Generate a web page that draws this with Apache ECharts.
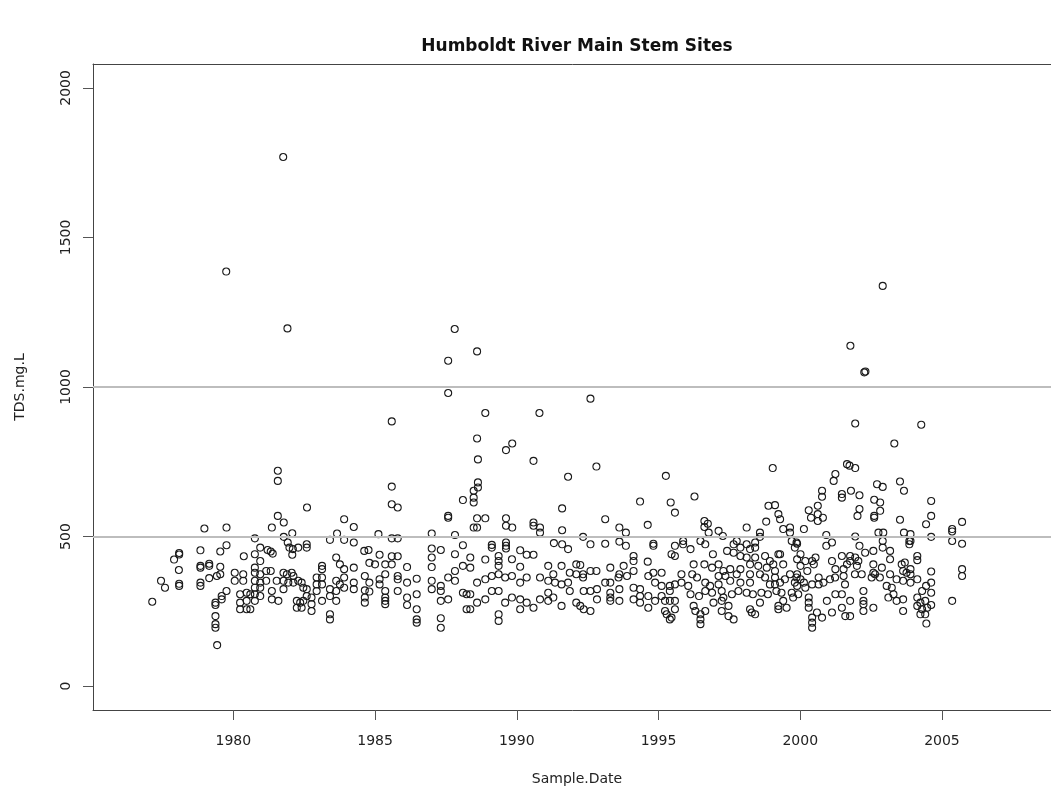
<!DOCTYPE html>
<html>
<head>
<meta charset="utf-8">
<script src="https://cdn.jsdelivr.net/npm/echarts@6/dist/echarts.min.js"></script>
<style>
html,body{margin:0;padding:0;background:#fff;}
#chart{width:1051px;height:791px;}
</style>
</head>
<body>
<div id="chart"></div>
<script>
// Sample.Date (decimal year), TDS.mg.L
const tds1977_1980 = [[1978.98,527],[1979.76,530],[1979.76,471],[1979.54,450],[1978.84,454],[1978.09,445],[1978.09,440],[1977.91,423],[1978.08,388],[1977.45,352],[1977.59,329],[1978.09,342],[1978.09,335],[1978.84,402],[1978.84,396],[1979.15,409],[1979.15,402],[1979.54,399],[1978.84,346],[1978.84,335],[1979.15,361],[1979.42,368],[1979.54,374],[1977.14,282],[1980.37,434],[1980.05,379],[1980.05,352],[1980.35,374],[1980.35,352],[1979.76,318],[1979.59,301],[1979.59,290],[1979.37,279],[1979.37,271],[1979.37,234],[1979.37,207],[1979.37,195],[1979.43,137],[1980.24,307],[1980.24,279],[1980.24,257],[1980.47,312],[1980.47,285],[1980.47,257],[1979.75,1386]];
const tds1981_1984 = [[1981.57,720],[1981.57,686],[1982.6,597],[1981.57,569],[1981.78,547],[1981.36,530],[1982.08,511],[1981.78,499],[1980.76,494],[1983.91,558],[1984.25,532],[1983.66,510],[1983.41,489],[1983.91,489],[1984.25,480],[1980.95,463],[1981.21,455],[1981.32,450],[1981.39,443],[1981.92,480],[1981.98,463],[1982.1,458],[1982.29,463],[1982.59,474],[1982.59,463],[1982.08,439],[1980.76,441],[1980.95,418],[1980.76,396],[1983.63,430],[1983.76,407],[1983.91,391],[1984.25,396],[1983.13,402],[1983.13,391],[1980.76,379],[1980.95,374],[1981.16,385],[1981.32,385],[1980.76,352],[1980.95,346],[1981.16,352],[1980.76,329],[1980.95,329],[1980.6,307],[1980.76,307],[1980.95,301],[1980.76,285],[1980.6,257],[1981.36,318],[1981.36,290],[1981.59,285],[1981.77,324],[1981.77,379],[1981.89,374],[1982.06,379],[1982.12,368],[1981.53,352],[1981.77,352],[1981.94,346],[1982.12,346],[1982.29,352],[1982.41,346],[1982.47,329],[1982.24,285],[1982.36,279],[1982.24,262],[1982.41,262],[1982.47,285],[1982.76,296],[1982.76,274],[1982.76,251],[1982.59,301],[1982.59,324],[1982.94,363],[1982.94,340],[1982.94,318],[1983.13,363],[1983.13,340],[1983.13,285],[1983.41,324],[1983.41,301],[1983.41,240],[1983.41,223],[1983.63,352],[1983.63,318],[1983.63,285],[1983.76,340],[1983.91,363],[1983.91,329],[1984.25,346],[1984.25,324]];
const tds1985_1988 = [[1985.59,885],[1985.59,667],[1985.59,608],[1985.8,597],[1988.1,622],[1987.58,569],[1987.58,563],[1985.12,508],[1985.59,494],[1985.8,494],[1987.0,510],[1987.82,505],[1988.1,471],[1984.62,452],[1984.77,455],[1985.16,439],[1984.8,412],[1985.0,407],[1985.36,407],[1985.59,434],[1985.8,434],[1985.59,407],[1986.13,398],[1987.0,460],[1987.32,455],[1987.0,430],[1987.0,398],[1987.82,441],[1988.1,402],[1987.82,385],[1987.82,352],[1987.58,363],[1984.64,368],[1984.8,346],[1984.64,320],[1984.8,316],[1984.64,296],[1984.64,279],[1985.16,357],[1985.16,340],[1985.36,374],[1985.36,318],[1985.36,296],[1985.36,285],[1985.36,274],[1985.8,368],[1985.8,357],[1985.8,318],[1986.13,346],[1986.47,359],[1986.13,296],[1986.13,271],[1986.47,307],[1986.47,257],[1986.47,223],[1986.47,212],[1987.0,352],[1987.0,324],[1987.32,335],[1987.32,318],[1987.32,285],[1987.58,290],[1987.32,227],[1987.32,195],[1988.23,307],[1988.1,312],[1988.23,257]];
const tds1988_1992 = [[1988.89,913],[1990.8,913],[1988.6,828],[1988.63,758],[1989.62,789],[1989.84,811],[1990.59,753],[1991.81,700],[1991.6,594],[1988.63,681],[1988.63,664],[1988.48,653],[1988.48,630],[1988.48,614],[1988.6,561],[1988.89,561],[1988.48,530],[1988.6,530],[1989.62,561],[1989.62,536],[1989.84,530],[1990.59,547],[1990.59,536],[1990.82,530],[1990.82,513],[1991.6,521],[1991.31,478],[1991.6,474],[1991.81,458],[1989.12,472],[1989.12,463],[1989.62,480],[1989.62,469],[1989.62,460],[1990.12,454],[1990.35,439],[1990.59,439],[1988.36,430],[1988.36,396],[1988.89,423],[1989.36,435],[1989.36,418],[1989.36,402],[1989.83,424],[1990.12,399],[1991.11,402],[1991.58,402],[1992.1,407],[1991.87,379],[1991.29,374],[1988.6,346],[1988.89,357],[1989.12,368],[1989.36,374],[1989.59,363],[1989.83,368],[1990.12,346],[1990.35,363],[1990.82,363],[1991.11,352],[1991.35,346],[1991.58,340],[1991.81,346],[1992.1,374],[1988.36,307],[1988.36,257],[1988.6,279],[1988.89,290],[1989.12,318],[1989.36,318],[1989.59,279],[1989.83,296],[1990.12,290],[1990.12,257],[1990.35,279],[1990.59,262],[1990.82,290],[1991.11,312],[1991.11,285],[1991.29,296],[1991.58,268],[1991.87,318],[1992.1,279],[1989.36,240],[1989.36,218]];
const tds1992_1996 = [[1992.81,734],[1995.26,703],[1994.35,617],[1995.43,614],[1995.58,580],[1993.12,558],[1993.62,530],[1993.85,513],[1994.62,539],[1992.34,499],[1992.6,474],[1993.12,476],[1993.62,483],[1993.85,469],[1994.82,476],[1994.82,469],[1995.58,469],[1995.46,441],[1995.58,435],[1995.87,474],[1995.87,485],[1994.12,435],[1994.12,418],[1993.77,402],[1994.12,385],[1994.62,416],[1992.24,405],[1992.6,385],[1992.81,385],[1993.3,396],[1993.62,374],[1993.89,368],[1992.34,374],[1992.34,363],[1993.12,346],[1993.3,346],[1993.59,363],[1994.64,368],[1994.82,379],[1995.11,379],[1994.88,346],[1995.81,374],[1995.81,346],[1996.05,335],[1995.58,340],[1995.4,335],[1992.36,318],[1992.6,318],[1992.83,324],[1992.83,290],[1993.3,312],[1993.3,296],[1993.3,285],[1993.62,324],[1993.62,285],[1994.12,329],[1994.12,290],[1994.35,324],[1994.35,301],[1994.35,279],[1994.64,301],[1994.64,262],[1994.88,285],[1995.11,335],[1995.11,301],[1995.23,285],[1995.23,251],[1995.4,318],[1995.4,285],[1995.58,285],[1995.58,257],[1995.4,223],[1992.24,268],[1992.36,257],[1992.6,251],[1995.29,240],[1995.46,229]];
const tds1996_2000 = [[1996.27,634],[1999.03,729],[1998.88,603],[1999.11,605],[1999.23,575],[1999.29,558],[1998.8,550],[1996.62,552],[1996.74,543],[1996.62,532],[1998.11,530],[1998.58,513],[1998.58,499],[1999.4,525],[1999.64,530],[1999.64,513],[1997.12,519],[1997.27,502],[1996.77,513],[1996.13,458],[1996.48,485],[1996.65,474],[1996.92,441],[1997.42,452],[1997.65,474],[1997.76,485],[1997.65,446],[1997.89,463],[1998.11,474],[1998.23,458],[1998.41,480],[1998.41,463],[1999.7,485],[1999.87,480],[1999.81,463],[1997.89,435],[1998.11,430],[1998.41,430],[1998.76,435],[1998.93,418],[1999.23,441],[1996.24,407],[1996.62,407],[1996.89,396],[1997.12,407],[1997.29,385],[1997.53,391],[1997.89,391],[1998.23,407],[1998.52,402],[1998.82,396],[1999.05,407],[1999.29,441],[1999.4,407],[1999.11,385],[1999.64,374],[1999.81,346],[1999.87,363],[1996.19,374],[1996.36,363],[1996.65,346],[1996.82,335],[1997.12,340],[1997.12,368],[1997.36,368],[1997.53,352],[1997.76,374],[1997.89,346],[1998.23,374],[1998.23,346],[1998.58,374],[1998.76,363],[1998.93,340],[1999.11,363],[1999.11,340],[1999.29,346],[1999.46,357],[1996.13,307],[1996.43,301],[1996.65,318],[1996.89,312],[1997.23,318],[1997.29,296],[1997.59,307],[1997.82,318],[1998.11,312],[1998.33,307],[1998.63,312],[1998.86,307],[1999.16,318],[1999.34,312],[1999.7,312],[1999.93,307],[1996.24,268],[1996.3,251],[1996.48,240],[1996.48,223],[1996.48,207],[1996.65,251],[1996.94,279],[1997.23,285],[1997.23,251],[1997.47,268],[1997.47,234],[1997.65,223],[1998.23,257],[1998.29,246],[1998.41,240],[1998.58,279],[1999.23,268],[1999.23,257],[1999.4,285],[1999.52,262],[1999.75,296]];
const tds2000_2004 = [[2001.94,878],[2003.32,811],[2001.65,742],[2001.74,737],[2001.94,729],[2001.24,709],[2001.18,686],[2002.71,675],[2002.91,666],[2003.52,684],[2003.66,653],[2000.77,653],[2000.77,633],[2001.47,642],[2001.47,630],[2001.79,653],[2002.09,638],[2002.61,623],[2002.82,614],[2002.82,586],[2002.61,563],[2002.61,569],[2002.09,592],[2002.02,569],[2000.3,588],[2000.62,603],[2000.62,575],[2000.38,563],[2000.8,563],[2000.62,552],[2003.52,556],[2003.66,513],[2003.85,485],[2003.85,474],[2000.13,525],[2001.94,500],[2000.92,505],[2000.92,469],[2001.12,480],[2002.09,469],[2002.76,513],[2002.93,513],[2002.91,485],[2002.91,463],[2003.17,452],[2003.17,424],[1999.89,476],[2000.01,441],[1999.89,424],[2000.18,418],[2000.42,418],[2000.54,430],[2000.01,402],[2000.25,385],[2000.48,407],[2001.12,418],[2001.47,435],[2001.76,435],[2001.94,430],[2002.05,418],[2002.29,446],[2002.0,402],[2001.76,418],[2001.65,407],[2001.53,391],[2001.24,391],[2002.58,452],[2002.58,407],[2002.58,379],[2002.88,396],[2003.17,374],[2003.58,407],[2003.63,385],[2003.75,379],[2003.69,413],[1999.89,374],[2000.01,357],[2000.13,346],[1999.89,335],[2000.18,329],[2000.42,340],[2000.65,363],[2000.65,340],[2000.82,346],[2001.05,357],[2001.23,363],[2001.53,368],[2001.58,340],[2001.93,374],[2002.17,374],[2002.52,363],[2002.64,374],[2002.81,363],[2003.05,335],[2003.23,329],[2003.4,357],[2003.63,352],[2000.3,296],[2000.3,279],[2000.3,262],[2000.42,229],[2000.42,212],[2000.42,195],[2000.59,246],[2000.77,229],[2000.94,285],[2001.12,246],[2001.24,307],[2001.47,307],[2001.47,262],[2001.59,234],[2001.76,285],[2002.23,318],[2002.23,285],[2002.23,274],[2002.23,251],[2002.58,262],[2003.11,296],[2003.29,307],[2003.4,285],[2003.63,290],[2003.63,251],[2001.76,234]];
const tds2004_2006 = [[2004.27,874],[2004.62,619],[2004.62,569],[2004.44,541],[2005.71,549],[2005.36,525],[2005.36,517],[2003.89,508],[2003.89,485],[2004.62,499],[2005.36,485],[2005.71,476],[2004.13,435],[2004.13,421],[2003.89,391],[2003.89,374],[2003.89,346],[2004.13,357],[2004.62,383],[2004.62,346],[2005.71,391],[2005.71,368],[2004.44,335],[2004.3,318],[2004.62,312],[2004.13,296],[2004.24,279],[2004.41,285],[2004.13,268],[2004.3,257],[2004.48,262],[2004.62,271],[2004.24,240],[2004.41,240],[2004.45,209],[2005.36,285]];
const tdsHigh = [[1981.76,1769],[1981.91,1196],[1987.81,1194],[1988.6,1119],[1987.58,1088],[1987.58,980],[1992.6,961],[2002.91,1338],[2001.77,1138],[2002.26,1049],[2002.3,1052]];

const xTicks = [1980, 1985, 1990, 1995, 2000, 2005];
const yTicks = [0, 500, 1000, 1500, 2000];
const refLines = [500, 1000];

const allPoints = [].concat(tds1977_1980, tds1981_1984, tds1985_1988, tds1988_1992,
  tds1992_1996, tds1996_2000, tds2000_2004, tds2004_2006, tdsHigh);

const FONT = 'DejaVu Sans';
const AXIS_COLOR = '#444';
const chart = echarts.init(document.getElementById('chart'), null, {renderer: 'canvas'});
chart.setOption({
  animation: false,
  backgroundColor: '#ffffff',
  title: {
    text: 'Humboldt River Main Stem Sites',
    left: 577, top: 38, textAlign: 'center', padding: 0,
    textStyle: {fontFamily: FONT, fontSize: 17, fontWeight: 'bold', color: '#111'}
  },
  grid: {
    left: 93, top: 64, width: 968, height: 646, show: false,
    containLabel: false, outerBoundsMode: 'none'
  },
  xAxis: [{
    type: 'value', min: 1975.05, max: 2009.2, position: 'bottom',
    name: 'Sample.Date', nameLocation: 'middle', nameGap: 62,
    nameTextStyle: {fontFamily: FONT, fontSize: 14, color: '#222'},
    axisLine: {show: true, onZero: false, lineStyle: {color: AXIS_COLOR, width: 1}},
    axisTick: {show: true, length: 10, lineStyle: {color: '#555'}, customValues: xTicks},
    axisLabel: {fontFamily: FONT, fontSize: 14, color: '#222', margin: 24, customValues: xTicks,
      formatter: v => String(v)},
    splitLine: {show: false}
  }, {
    type: 'value', min: 1975.05, max: 2009.2, position: 'top',
    axisLine: {show: true, onZero: false, lineStyle: {color: AXIS_COLOR, width: 1}},
    axisTick: {show: false}, axisLabel: {show: false}, splitLine: {show: false}
  }],
  yAxis: {
    type: 'value', min: -80, max: 2080,
    name: 'TDS.mg.L', nameLocation: 'middle', nameGap: 66,
    nameTextStyle: {fontFamily: FONT, fontSize: 14, color: '#222'},
    axisLine: {show: true, onZero: false, lineStyle: {color: AXIS_COLOR, width: 1}},
    axisTick: {show: true, length: 10, lineStyle: {color: '#555'}, customValues: yTicks},
    axisLabel: {fontFamily: FONT, fontSize: 14, color: '#222', margin: 20, rotate: 90,
      customValues: yTicks, formatter: v => String(v)},
    splitLine: {show: false}
  },
  series: [{
    type: 'scatter',
    xAxisIndex: 0,
    data: allPoints,
    symbol: 'circle',
    symbolSize: 7,
    itemStyle: {color: 'rgba(0,0,0,0)', borderColor: '#1a1a1a', borderWidth: 1.1, opacity: 1},
    emphasis: {disabled: true},
    markLine: {
      silent: true,
      symbol: ['none', 'none'],
      label: {show: false},
      lineStyle: {color: '#bdbdbd', width: 2, type: 'solid'},
      data: refLines.map(v => ({yAxis: v}))
    },
    z: 3
  }]
});
</script>
</body>
</html>
